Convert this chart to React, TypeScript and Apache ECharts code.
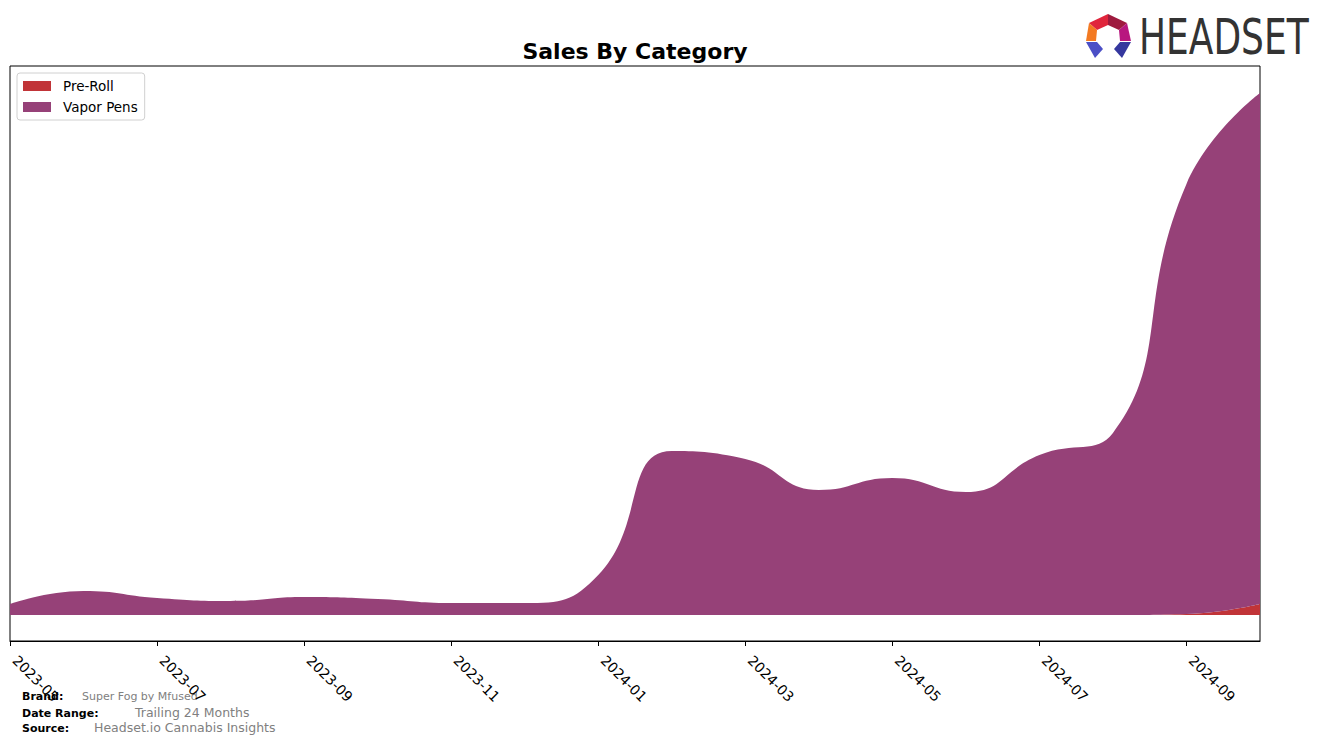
import React, { useEffect, useRef } from "react";
import * as echarts from "echarts";

const months = [
  "2023-05", "2023-06", "2023-07", "2023-08", "2023-09", "2023-10",
  "2023-11", "2023-12", "2024-01", "2024-02", "2024-03", "2024-04",
  "2024-05", "2024-06", "2024-07", "2024-08", "2024-09", "2024-10",
];
const preRoll = [0, 0, 0, 0, 0, 0, 0, 0, 0, 0, 0, 0, 0, 0, 0, 0, 1, 11];
const vaporPens = [11, 24, 17, 14, 18, 16, 12, 12, 40, 164, 156, 125, 137, 123, 160, 182, 430, 511];

const FONT = "DejaVu Sans, Verdana, sans-serif";

export default function App() {
  const ref = useRef<HTMLDivElement>(null);
  useEffect(() => {
    if (!ref.current) return;
    const chart = echarts.init(ref.current, undefined, { renderer: "svg" });
    chart.setOption({
      animation: false,
      textStyle: { fontFamily: FONT },
      grid: {
        left: 10, right: 64, top: 66, bottom: 104,
        show: true, borderColor: "#000", borderWidth: 1, backgroundColor: "transparent",
      },
      legend: {
        left: 17, top: 73, orient: "vertical",
        itemWidth: 28, itemHeight: 10, itemGap: 7,
        padding: [6, 7, 6, 6],
        borderColor: "#d0d0d0", borderWidth: 1, borderRadius: 3,
        backgroundColor: "#fff",
        textStyle: { fontFamily: FONT, fontSize: 13.5, color: "#000", padding: [0, 0, 0, 7] },
        icon: "rect",
        data: ["Pre-Roll", "Vapor Pens"],
      },
      xAxis: {
        type: "category",
        data: months,
        boundaryGap: false,
        axisLine: { show: true, onZero: false, lineStyle: { color: "#000", width: 1 } },
        axisTick: { show: true, interval: 1, length: 5, lineStyle: { color: "#000" } },
        axisLabel: {
          interval: 1, rotate: -45, margin: 12,
          fontFamily: FONT, fontSize: 14, color: "#000",
          padding: [0, 0, 0, 7],
        },
        splitLine: { show: false },
      },
      yAxis: {
        type: "value",
        min: -26, max: 549,
        axisLine: { show: false },
        axisTick: { show: false },
        axisLabel: { show: false },
        splitLine: { show: false },
      },
      series: [
        {
          name: "Pre-Roll", type: "line", stack: "total", data: preRoll,
          smooth: 0.5, showSymbol: false, symbol: "none",
          lineStyle: { width: 0 }, color: "#c13438",
          areaStyle: { color: "#c13438", opacity: 1 },
        },
        {
          name: "Vapor Pens", type: "line", stack: "total", data: vaporPens,
          smooth: 0.5, showSymbol: false, symbol: "none",
          lineStyle: { width: 0 }, color: "#964178",
          areaStyle: { color: "#964178", opacity: 1 },
        },
      ],
      graphic: [
        {
          type: "text", x: 635, y: 51,
          style: {
            text: "Sales By Category", font: `bold 22px ${FONT}`, fill: "#000",
            textAlign: "center", textVerticalAlign: "middle",
          },
        },
        // Logo icon
        { type: "polygon", shape: { points: [[1108, 14], [1089, 23], [1097, 30], [1108, 25]] }, style: { fill: "#e0253c" } },
        { type: "polygon", shape: { points: [[1108, 14], [1127, 23], [1119, 30], [1108, 25]] }, style: { fill: "#9e1a3e" } },
        { type: "polygon", shape: { points: [[1089, 23], [1086, 41], [1096, 41], [1097, 30]] }, style: { fill: "#f37a22" } },
        { type: "polygon", shape: { points: [[1127, 23], [1131, 41], [1120, 41], [1119, 30]] }, style: { fill: "#b8177f" } },
        { type: "polygon", shape: { points: [[1086, 42], [1097, 42], [1103, 49], [1095, 58]] }, style: { fill: "#4b4fc6" } },
        { type: "polygon", shape: { points: [[1131, 42], [1120, 42], [1114, 49], [1122, 58]] }, style: { fill: "#35379e" } },
        {
          type: "text", x: 1139, y: 12, scaleX: 0.72,
          style: { text: "HEADSET", font: `50px ${FONT}`, fill: "#333333" },
        },
        // Footer
        { type: "text", left: 22, top: 691, style: { text: "Brand:", font: `bold 11px ${FONT}`, fill: "#000" } },
        { type: "text", left: 82, top: 691, style: { text: "Super Fog by Mfused", font: `11px ${FONT}`, fill: "#808080" } },
        { type: "text", left: 22, top: 708, style: { text: "Date Range:", font: `bold 11px ${FONT}`, fill: "#000" } },
        { type: "text", left: 135, top: 706, style: { text: "Trailing 24 Months", font: `12.5px ${FONT}`, fill: "#808080" } },
        { type: "text", left: 22, top: 723, style: { text: "Source:", font: `bold 11px ${FONT}`, fill: "#000" } },
        { type: "text", left: 94, top: 721, style: { text: "Headset.io Cannabis Insights", font: `12.5px ${FONT}`, fill: "#808080" } },
      ],
    });
    return () => chart.dispose();
  }, []);
  return (
    <div
      ref={ref}
      style={{ position: "fixed", left: 0, top: 0, width: 1324, height: 745, background: "#fff" }}
    />
  );
}
